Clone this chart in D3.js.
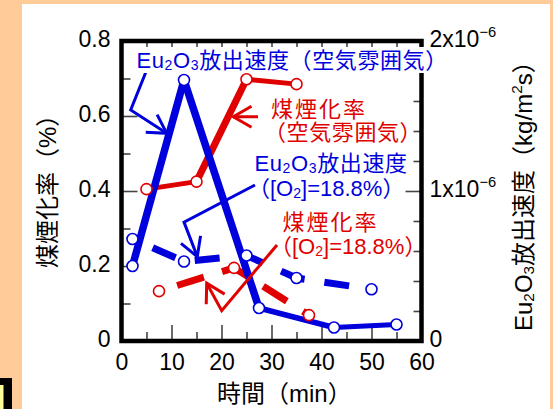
<!DOCTYPE html>
<html><head><meta charset="utf-8">
<script src="https://cdn.jsdelivr.net/npm/d3@7"></script>
<style>
html,body{margin:0;padding:0;background:#FFCC99;}
svg{display:block;}
</style></head><body>
<svg id="chart" width="553" height="409"></svg>
<script>
// Elapsed time (min) and measured values for each condition
const timeRateAir = [2.2, 12.5, 27.5, 42.5, 55];
const rateAir     = [0.50e-6, 1.74e-6, 0.22e-6, 0.09e-6, 0.11e-6];   // kg/m2s, air
const timeRateO2  = [2.2, 12.5, 25, 35, 50];
const rateO2      = [0.68e-6, 0.53e-6, 0.57e-6, 0.42e-6, 0.345e-6];  // kg/m2s, [O2]=18.8%
const timeSootAir = [5, 15, 25, 35];
const sootAir     = [0.405, 0.425, 0.698, 0.685];                    // %, air
const timeSootO2  = [7.5, 22.5, 37.5];
const sootO2      = [0.133, 0.195, 0.069];                           // %, [O2]=18.8%

// Axis ticks
const xMajor = [0, 10, 20, 30, 40, 50, 60];
const xMinor = [5, 15, 25, 35, 45, 55];
const yLeftMajor = [0, 0.2, 0.4, 0.6, 0.8];
const yLeftMinor = [0.1, 0.3, 0.5, 0.7];
const yRightMajor = [0, 1e-6, 2e-6];
const yRightMinor = [0.2e-6, 0.4e-6, 0.6e-6, 0.8e-6, 1.2e-6, 1.4e-6, 1.6e-6, 1.8e-6];
const yRightLabels = ["0", "1x10^{−6}", "2x10^{−6}"];

const BLUE = "#0000DD", RED = "#E00000";
const FONT = "'Liberation Sans', Arial, 'Noto Sans CJK JP', sans-serif";

const svg = d3.select("#chart");

// page background panels
svg.append("rect").attr("x", 0).attr("y", 0).attr("width", 553).attr("height", 409).attr("fill", "#FFCC99");
svg.append("rect").attr("x", 22).attr("y", 4).attr("width", 528).attr("height", 410).attr("fill", "#FFFFFF");
svg.append("rect").attr("x", -2).attr("y", 378).attr("width", 14).attr("height", 40).attr("fill", "#000");
svg.append("rect").attr("x", -2).attr("y", 385).attr("width", 5.5).attr("height", 40).attr("fill", "#FFFF99");

const xs = d3.scaleLinear().domain([0, 60]).range([121.5, 421.5]);
const yL = d3.scaleLinear().domain([0, 0.8]).range([341, 41]);
const yR = d3.scaleLinear().domain([0, 2e-6]).range([341, 41]);

// Writes text with _{..} subscripts and ^{..} superscripts as tspans
function rich(sel, str, fs) {
  const re = /([_^])\{([^}]*)\}/g;
  let last = 0, m, shift = 0;
  const put = (t, size, dy) => {
    sel.append("tspan").attr("font-size", size).attr("dy", dy).text(t);
  };
  while ((m = re.exec(str)) !== null) {
    if (m.index > last) { put(str.slice(last, m.index), fs, -shift); shift = 0; }
    const d = m[1] === "_" ? fs * 0.08 : -fs * 0.42;
    put(m[2], fs * 0.64, d - shift);
    shift = d;
    last = re.lastIndex;
  }
  if (last < str.length) put(str.slice(last), fs, -shift);
  return sel;
}

const tickStyle = g => {
  g.select(".domain").remove();
  g.selectAll(".tick line").attr("stroke", "#444").attr("stroke-width", 1.6);
  g.selectAll("text").attr("font-family", FONT).attr("font-size", 23).attr("fill", "#000");
};

// bottom axis
const gB = svg.append("g").attr("transform", "translate(0,341)");
gB.call(d3.axisBottom(xs).tickValues(xMajor).tickSizeInner(-16).tickSizeOuter(0).tickFormat(d3.format("d")));
gB.call(tickStyle);
gB.selectAll("text").attr("y", 29).attr("dy", 0);
svg.append("g").attr("transform", "translate(0,341)")
  .call(d3.axisBottom(xs).tickValues(xMinor).tickSizeInner(-9).tickSizeOuter(0).tickFormat(""))
  .call(tickStyle);

// top axis
svg.append("g").attr("transform", "translate(0,41)")
  .call(d3.axisTop(xs).tickValues(xMajor).tickSizeInner(-16).tickSizeOuter(0).tickFormat(""))
  .call(tickStyle);
svg.append("g").attr("transform", "translate(0,41)")
  .call(d3.axisTop(xs).tickValues(xMinor).tickSizeInner(-9).tickSizeOuter(0).tickFormat(""))
  .call(tickStyle);

// left axis
const gL = svg.append("g").attr("transform", "translate(121.5,0)");
gL.call(d3.axisLeft(yL).tickValues(yLeftMajor).tickSizeInner(-16).tickSizeOuter(0)
  .tickFormat(d => d === 0 ? "0" : d3.format(".1f")(d)));
gL.call(tickStyle);
gL.selectAll("text").attr("x", -11).attr("dy", 5.5);
svg.append("g").attr("transform", "translate(121.5,0)")
  .call(d3.axisLeft(yL).tickValues(yLeftMinor).tickSizeInner(-9).tickSizeOuter(0).tickFormat(""))
  .call(tickStyle);

// right axis
const gR = svg.append("g").attr("transform", "translate(422.5,0)");
gR.call(d3.axisRight(yR).tickValues(yRightMajor).tickSizeInner(-17).tickSizeOuter(0).tickFormat(""));
gR.call(tickStyle);
gR.selectAll(".tick").each(function (d, i) {
  const t = d3.select(this).append("text").attr("x", 7).attr("y", 5)
    .attr("font-family", FONT).attr("fill", "#000").attr("text-anchor", "start");
  rich(t, yRightLabels[i], 23);
});
svg.append("g").attr("transform", "translate(422.5,0)")
  .call(d3.axisRight(yR).tickValues(yRightMinor).tickSizeInner(-9).tickSizeOuter(0).tickFormat(""))
  .call(tickStyle);

// plot frame
svg.append("rect").attr("x", xs(0)).attr("y", yL(0.8))
  .attr("width", xs(60) - xs(0)).attr("height", yL(0) - yL(0.8))
  .attr("fill", "none").attr("stroke", "#000").attr("stroke-width", 4.5);

// axis titles
svg.append("text").attr("x", 217).attr("y", 401.5)
  .attr("font-family", FONT).attr("font-size", 24).text("時間（min）");
svg.append("text").attr("transform", "translate(56,268) rotate(-90)")
  .attr("font-family", FONT).attr("font-size", 24).text("煤煙化率（%）");
rich(svg.append("text").attr("transform", "translate(532,331) rotate(-90)")
  .attr("font-family", FONT), "Eu_{2}O_{3}放出速度（kg/m^{2}s）", 24);

// series
const ptsOf = (ts, vs, y) => ts.map((t, i) => [xs(t), y(vs[i])]);
const pSootAir = ptsOf(timeSootAir, sootAir, yL);
const pSootO2  = ptsOf(timeSootO2, sootO2, yL);
const pRateAir = ptsOf(timeRateAir, rateAir, yR);
const pRateO2  = ptsOf(timeRateO2, rateO2, yR);

const plot = svg.append("g");
function solid(pts, color, widths) {
  d3.pairs(pts).forEach((seg, i) => {
    plot.append("path").attr("d", d3.line()(seg)).attr("fill", "none")
      .attr("stroke", color).attr("stroke-width", widths[i]).attr("stroke-linecap", "round");
  });
}
function dashed(pts, color, dash, offset) {
  plot.append("path").attr("d", d3.line()(pts)).attr("fill", "none")
    .attr("stroke", color).attr("stroke-width", 7).attr("stroke-linecap", "butt")
    .attr("stroke-dasharray", dash).attr("stroke-dashoffset", offset);
}
solid(pSootAir, RED, [5, 7, 5]);
dashed(pSootO2, RED, "28 19", 28);
solid(pRateAir, BLUE, [7.5, 7.5, 5.5, 5]);
dashed(pRateO2, BLUE, "25 20", 23);

function markers(pts, color) {
  plot.selectAll(null).data(pts).enter().append("circle")
    .attr("cx", d => d[0]).attr("cy", d => d[1]).attr("r", 5.5)
    .attr("fill", "#fff").attr("stroke", color).attr("stroke-width", 1.6);
}
markers(pSootAir, RED);
markers(pSootO2, RED);
markers(pRateAir, BLUE);
markers(pRateO2, BLUE);

// callout arrows (time, left-axis value)
const arrows = [
  { color: BLUE, pts: [[4.9, 0.718], [1.84, 0.616], [9.04, 0.554]] },
  { color: RED,  pts: [[27.3, 0.598], [22.36, 0.598]] },
  { color: BLUE, pts: [[26.7, 0.416], [12.5, 0.317], [15.16, 0.225]] },
  { color: RED,  pts: [[31.1, 0.256], [20.04, 0.081], [17.04, 0.154]] }
];
arrows.forEach(a => {
  const p = a.pts.map(([t, v]) => [xs(t), yL(v)]);
  const g = svg.append("g").attr("fill", "none").attr("stroke", a.color).attr("stroke-width", 3);
  g.append("path").attr("d", d3.line()(p));
  const [s, e] = p.slice(-2);
  const back = Math.atan2(s[1] - e[1], s[0] - e[0]);
  const L = 21, h = Math.PI / 6;
  const b1 = [e[0] + L * Math.cos(back - h), e[1] + L * Math.sin(back - h)];
  const b2 = [e[0] + L * Math.cos(back + h), e[1] + L * Math.sin(back + h)];
  g.append("path").attr("d", d3.line()([b1, e, b2]));
});

// callout labels (time, left-axis value of baseline)
const labels = [
  { color: BLUE, t: 3.0,  v: 0.728, text: "Eu_{2}O_{3}放出速度（空気雰囲気）", bg: true, ls: 0.6 },
  { color: RED,  t: 29.9, v: 0.597, text: "煤煙化率", ls: 2 },
  { color: RED,  t: 28.5, v: 0.536, text: "（空気雰囲気）", ls: 0.6 },
  { color: BLUE, t: 26.6, v: 0.453, text: "Eu_{2}O_{3}放出速度", ls: 0.6 },
  { color: BLUE, t: 25.3, v: 0.387, text: "（[O_{2}]=18.8%）", ls: 0 },
  { color: RED,  t: 32.2, v: 0.296, text: "煤煙化率", ls: 2 },
  { color: RED,  t: 29.7, v: 0.232, text: "（[O_{2}]=18.8%）", ls: 0 }
];
labels.forEach(l => {
  const g = svg.append("g");
  const t = g.append("text").attr("x", xs(l.t)).attr("y", yL(l.v))
    .attr("font-family", FONT).attr("fill", l.color).attr("letter-spacing", l.ls);
  rich(t, l.text, 22);
  if (l.bg) {
    const b = t.node().getBBox();
    g.insert("rect", "text").attr("x", b.x - 1).attr("y", yL(l.v) - 21)
      .attr("width", b.width + 2).attr("height", 26).attr("fill", "#fff");
  }
});
</script>
</body></html>
